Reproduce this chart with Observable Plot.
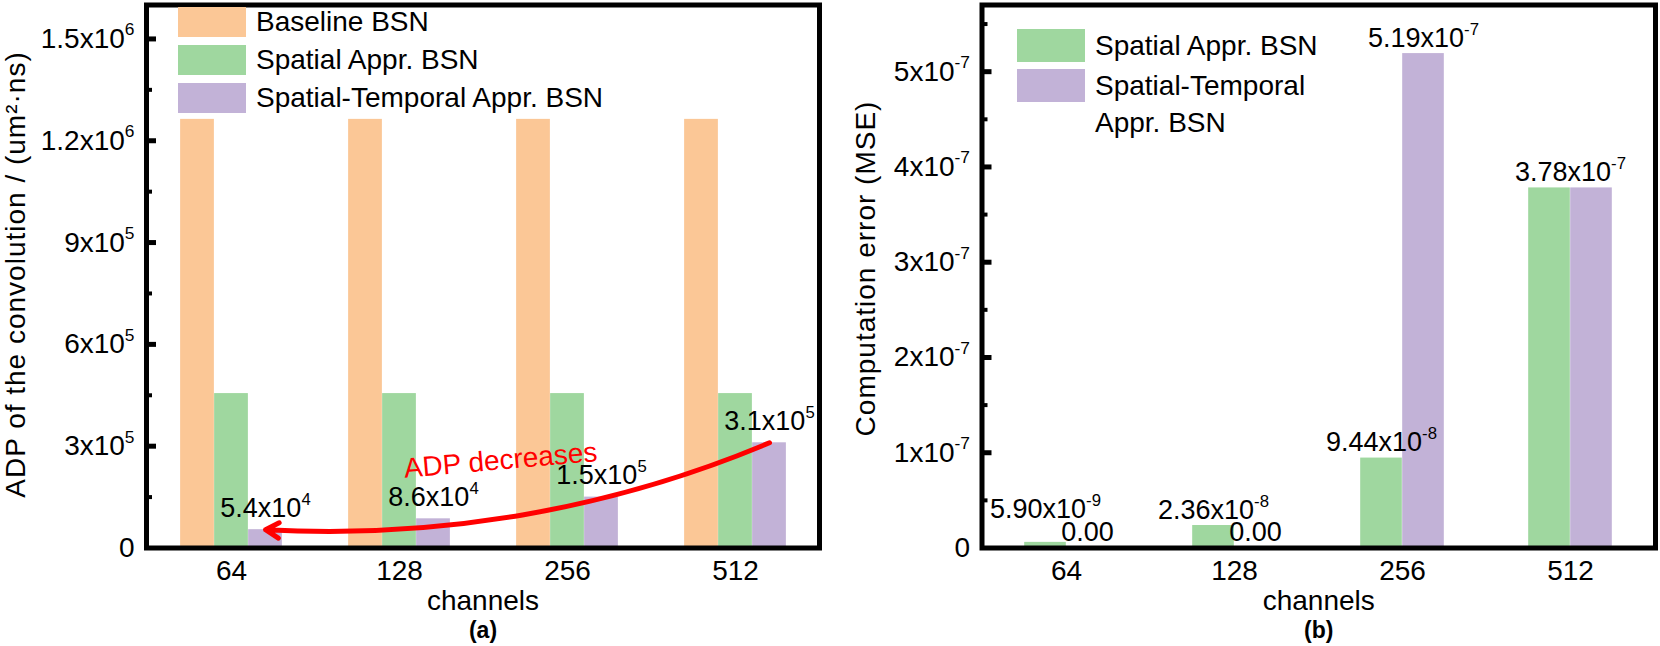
<!DOCTYPE html>
<html><head><meta charset="utf-8">
<script src="https://cdn.jsdelivr.net/npm/d3@7"></script>
<script src="https://cdn.jsdelivr.net/npm/@observablehq/plot@0.6"></script>
<style>
body{margin:0;background:#fff;font-family:"Liberation Sans",Arial,sans-serif;}
#wrap{position:relative;width:1660px;height:646px;overflow:hidden;}
.panel{position:absolute;top:0;}
.legend{position:absolute;font-size:28px;color:#000;font-family:"Liberation Sans",Arial,sans-serif;}
.row{display:flex;align-items:flex-start;}
.sw{width:68px;flex:none;}
</style></head><body><div id="wrap"></div>
<script>
// ---- data ----
const channels = ["64", "128", "256", "512"];
const seriesA = ["Baseline BSN", "Spatial Appr. BSN", "Spatial-Temporal Appr. BSN"];
const baselineADP = [1.263e6, 1.263e6, 1.263e6, 1.263e6];
const spatialADP = [4.55e5, 4.55e5, 4.55e5, 4.55e5];
const stADP = [5.4e4, 8.6e4, 1.5e5, 3.1e5];
const stADPLabels = ["5.4x10^4", "8.6x10^4", "1.5x10^5", "3.1x10^5"];
const seriesB = ["Spatial Appr. BSN", "Spatial-Temporal\nAppr. BSN"];
const spatialMSE = [5.90e-9, 2.36e-8, 9.44e-8, 3.78e-7];
const stMSE = [0, 0, 5.19e-7, 3.78e-7];
const spatialMSELabels = ["5.90x10^-9", "2.36x10^-8", "9.44x10^-8", ""];
const stMSELabels = ["0.00", "0.00", "5.19x10^-7", ""];
const groupMSELabels = ["", "", "", "3.78x10^-7"];
const yTicksA = [0, 3e5, 6e5, 9e5, 1.2e6, 1.5e6];
const yTickLabelsA = ["0", "3x10^5", "6x10^5", "9x10^5", "1.2x10^6", "1.5x10^6"];
const yMinorA = [1.5e5, 4.5e5, 7.5e5, 1.05e6, 1.35e6];
const yTicksB = [0, 1e-7, 2e-7, 3e-7, 4e-7, 5e-7];
const yTickLabelsB = ["0", "1x10^-7", "2x10^-7", "3x10^-7", "4x10^-7", "5x10^-7"];
const yMinorB = [0.5e-7, 1.5e-7, 2.5e-7, 3.5e-7, 4.5e-7, 5.5e-7];
const colors = ["#fbc796", "#9fd79f", "#c2b2d7"];
const arrowNote = "ADP decreases";
const titleA = "ADP of the convolution / (um²·ns)";
const titleB = "Computation error (MSE)";

// ---- helpers ----
const rows = (vals, labels) => channels.map((c, j) => ({channel: c, value: vals[j], label: labels ? labels[j] : ""}));
const FONT = "Liberation Sans, Arial, sans-serif";

function fixSup(el) {
  const s = el.textContent;
  const i = s.indexOf("^");
  if (i < 0) return;
  const ns = "http://www.w3.org/2000/svg";
  el.textContent = "";
  const a = document.createElementNS(ns, "tspan"); a.textContent = s.slice(0, i);
  const b = document.createElementNS(ns, "tspan"); b.textContent = s.slice(i + 1);
  b.setAttribute("font-size", "0.62em"); b.setAttribute("dy", "-0.72em");
  el.append(a, b);
}
function supify(svg) {
  svg.querySelectorAll("text").forEach(t => {
    const ts = t.querySelectorAll("tspan");
    if (ts.length) ts.forEach(fixSup); else fixSup(t);
    if (t.textContent === titleA || t.textContent === titleB) t.style.letterSpacing = "1px";
  });
}

function panel({width, mL, mR, yDomain, ticks, tickLabels, minor, bars, marks, title, titleDx, titleDy, letter}) {
  const H = 646, mT = 4.5, mB = 98.5;
  const plotW = width - mL - mR;
  const tickMap = new Map(ticks.map((t, i) => [t, tickLabels[i]]));
  return Plot.plot({
    width, height: H,
    marginLeft: mL, marginRight: mR, marginTop: mT, marginBottom: mB,
    style: {fontFamily: FONT, color: "#000", background: "#fff", overflow: "visible"},
    x: {domain: channels, padding: 0, axis: null},
    y: {domain: yDomain, axis: null},
    marks: [
      ...bars,
      ...marks,
      Plot.ruleY(ticks.filter(d => d > 0), {stroke: "#000", strokeWidth: 5, insetRight: plotW - 10}),
      Plot.ruleY(minor, {stroke: "#000", strokeWidth: 4, insetRight: plotW - 6}),
      Plot.axisY(ticks, {tickSize: 0, tickPadding: 12, fontSize: 28, tickFormat: d => tickMap.get(d), label: null}),
      Plot.axisX({tickSize: 0, tickPadding: 12, fontSize: 28, label: null}),
      Plot.text(["channels"], {frameAnchor: "bottom", textAnchor: "middle", lineAnchor: "middle", dy: 53, fontSize: 28}),
      Plot.text([letter], {frameAnchor: "bottom", textAnchor: "middle", lineAnchor: "middle", dy: 83, fontSize: 23, fontWeight: "bold"}),
      Plot.text([title], {frameAnchor: "left", textAnchor: "middle", lineAnchor: "middle", rotate: -90, dx: titleDx, dy: titleDy, fontSize: 28}),
      Plot.frame({stroke: "#000", strokeWidth: 5})
    ]
  });
}

// ---- panel (a) ----
const WA = 830, mLA = 146, mRA = 11;
const bandA = (WA - mLA - mRA) / channels.length;
const bwA = 34;
const insA = (bandA - bwA) / 2;
const barsA = [baselineADP, spatialADP, stADP].map((vals, i) =>
  Plot.barY(rows(vals), {x: "channel", y: "value", fill: colors[i], insetLeft: insA, insetRight: insA, dx: (i - 1) * bwA}));
const marksA = [
  Plot.text(rows(stADP, stADPLabels), {x: "channel", y: "value", text: "label", dx: bwA, dy: -21.5, fontSize: 27}),
  Plot.arrow([{from: "512", to: "64", v1: stADP[3], v2: stADP[0]}], {
    x1: "from", y1: "v1", x2: "to", y2: "v2", dx: bwA, stroke: "#ff0000", strokeWidth: 5,
    bend: 13, headLength: 4.6, headAngle: 60
  }),
  Plot.text([{channel: "256", v: 2.58e5}], {x: "channel", y: "v", text: () => arrowNote, dx: -67, rotate: -5, fill: "#ff0000", fontSize: 28})
];
const svgA = panel({width: WA, mL: mLA, mR: mRA, yDomain: [0, 1.6e6], ticks: yTicksA, tickLabels: yTickLabelsA, minor: yMinorA,
  bars: barsA, marks: marksA, title: titleA, titleDx: -130, titleDy: -2, letter: "(a)"});

// ---- panel (b) ----
const WB = 830, mLB = 151.5, mRB = 5;
const bandB = (WB - mLB - mRB) / channels.length;
const bwB = 42;
const insB = (bandB - bwB) / 2;
const barsB = [spatialMSE, stMSE].map((vals, i) =>
  Plot.barY(rows(vals), {x: "channel", y: "value", fill: colors[i + 1], insetLeft: insB, insetRight: insB, dx: (i - 0.5) * bwB}));
const spB = rows(spatialMSE, spatialMSELabels).filter(d => d.label);
const marksB = [
  Plot.text(spB.filter(d => d.value >= 1e-8), {x: "channel", y: "value", text: "label", dx: -bwB / 2, dy: -15.6, fontSize: 27}),
  Plot.text(spB.filter(d => d.value < 1e-8), {x: "channel", y: "value", text: "label", dx: -bwB / 2, dy: -33, fontSize: 27}),
  Plot.text(rows(stMSE, stMSELabels).filter(d => d.label), {x: "channel", y: "value", text: "label", dx: bwB / 2, dy: -15.6, fontSize: 27}),
  Plot.text(rows(stMSE, groupMSELabels).filter(d => d.label), {x: "channel", y: "value", text: "label", dy: -15.6, fontSize: 27})
];
const svgB = panel({width: WB, mL: mLB, mR: mRB, yDomain: [0, 5.7e-7], ticks: yTicksB, tickLabels: yTickLabelsB, minor: yMinorB,
  bars: barsB, marks: marksB, title: titleB, titleDx: -116, titleDy: -8, letter: "(b)"});

[svgA, svgB].forEach(supify);

const wrap = document.getElementById("wrap");
const pa = document.createElement("div"); pa.className = "panel"; pa.style.left = "0px"; pa.append(svgA);
const pb = document.createElement("div"); pb.className = "panel"; pb.style.left = WA + "px"; pb.append(svgB);
wrap.append(pa, pb);

// ---- legends (HTML, over the plots) ----
function legend(left, top, names, cols, swH, gap, lh) {
  const box = document.createElement("div");
  box.className = "legend";
  box.style.left = left + "px"; box.style.top = top + "px";
  names.forEach((n, i) => {
    const r = document.createElement("div"); r.className = "row";
    r.style.marginBottom = gap + "px";
    const sw = document.createElement("div"); sw.className = "sw";
    sw.style.height = swH + "px"; sw.style.background = cols[i];
    const tx = document.createElement("div");
    tx.style.marginLeft = "10px"; tx.style.lineHeight = lh + "px"; tx.style.whiteSpace = "pre";
    tx.style.marginTop = ((swH - lh) / 2) + "px";
    tx.textContent = n;
    r.append(sw, tx); box.append(r);
  });
  wrap.append(box);
}
legend(178, 7, seriesA, colors, 30, 8, 30);
legend(1017, 29, seriesB, colors.slice(1), 33, 5, 37);
</script></body></html>
